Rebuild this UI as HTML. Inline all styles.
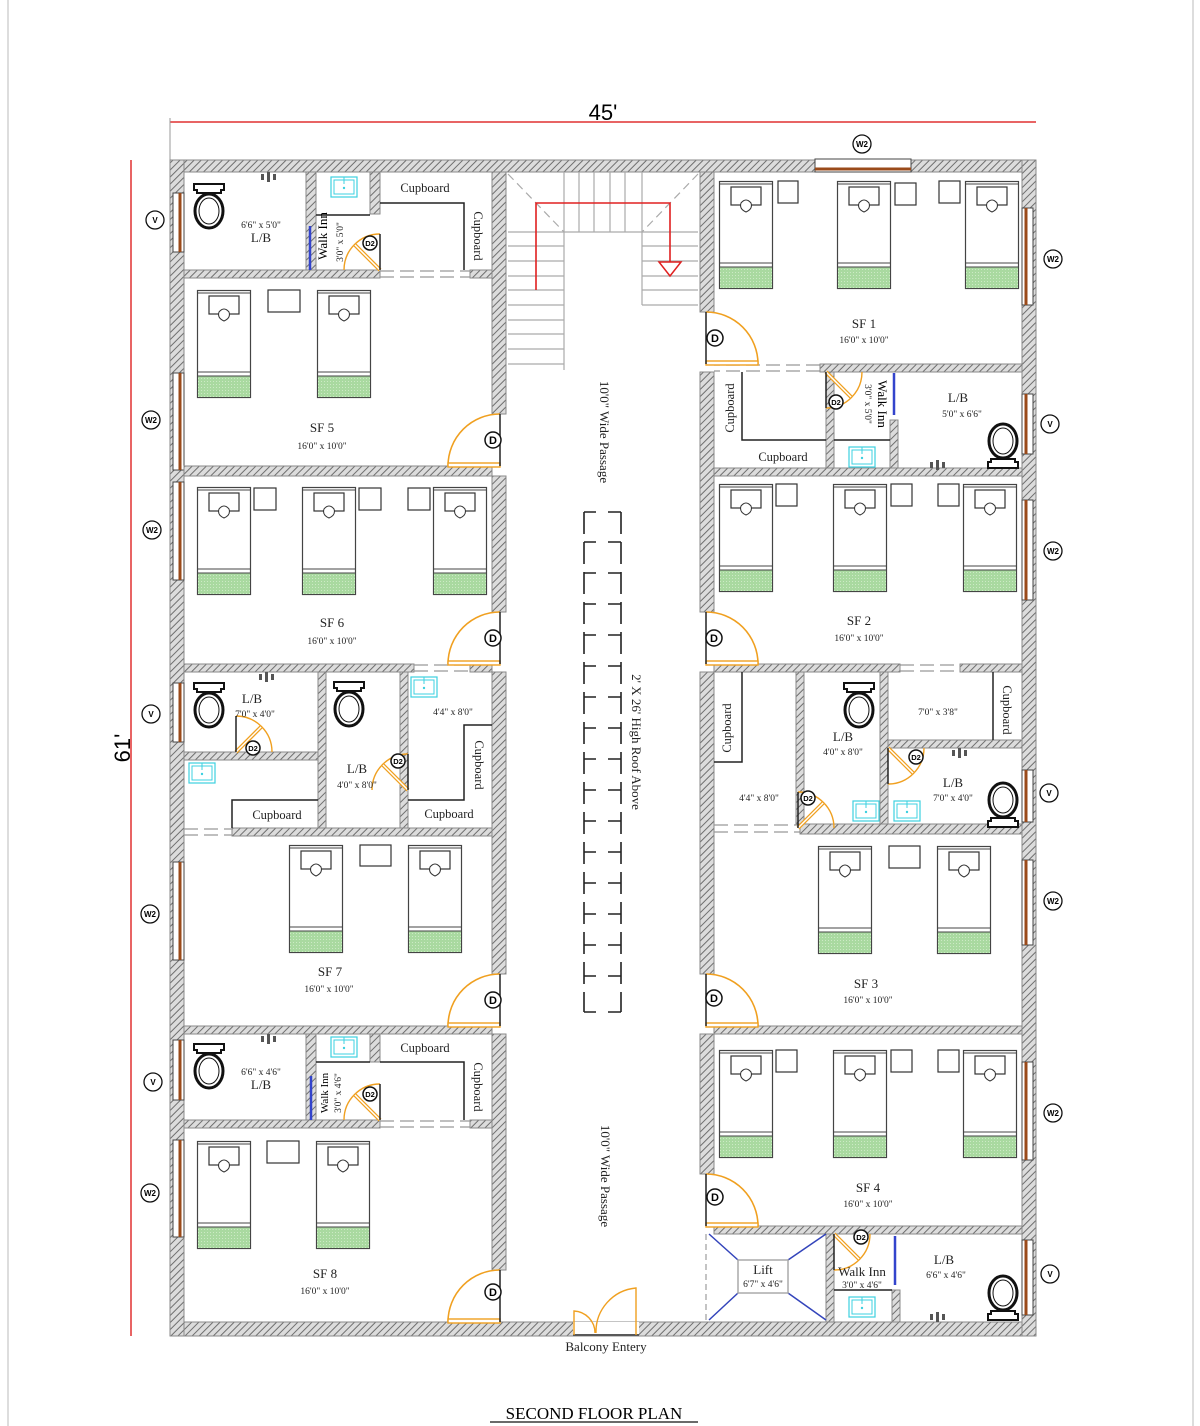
<!DOCTYPE html>
<html><head><meta charset="utf-8">
<style>
html,body{margin:0;padding:0;background:#fff;}
svg{display:block;font-family:"Liberation Serif",serif;}
.w{fill:url(#h);stroke:#8a8a8a;stroke-width:1;}
.t{font-size:13px;fill:#222;}
.s{font-size:9.5px;fill:#222;}
.c{font-size:12.5px;fill:#222;}
</style></head><body>
<svg width="1200" height="1426" viewBox="0 0 1200 1426" xmlns="http://www.w3.org/2000/svg">
<defs>
<pattern id="h" width="5" height="5" patternUnits="userSpaceOnUse" patternTransform="rotate(45)">
<rect width="5" height="5" fill="#dcdcdc"/><line x1="0" y1="0" x2="0" y2="5" stroke="#6f6f6f" stroke-width="2"/>
</pattern>
<pattern id="g" width="3" height="3" patternUnits="userSpaceOnUse"><rect width="3" height="3" fill="#a9d9a0"/><circle cx="1.5" cy="1.5" r="0.5" fill="#d8f0d2"/></pattern>
<symbol id="bed" viewBox="0 0 54 108" width="54" height="108" overflow="visible">
<rect x="0.5" y="0.5" width="53" height="107" fill="#fff" stroke="#444" stroke-width="1.2"/>
<line x1="0.5" y1="3" x2="53.5" y2="3" stroke="#444"/>
<rect x="12" y="6" width="30" height="18" fill="#fff" stroke="#333" stroke-width="1.2"/>
<path d="M22 22 q5 -6 10 0 q2 6 -5 9 q-7 -3 -5 -9z" fill="#fff" stroke="#333"/>
<line x1="0.5" y1="82" x2="53.5" y2="82" stroke="#444"/>
<rect x="0.5" y="86" width="53" height="21.5" fill="url(#g)" stroke="#444"/>
</symbol>
<symbol id="toi" viewBox="0 0 36 48" width="36" height="48" overflow="visible">
<path d="M3 2 h30 v6 h-3 v3 h-24 v-3 h-3z" fill="#fff" stroke="#111" stroke-width="2"/>
<ellipse cx="18" cy="29" rx="14" ry="17" fill="#fff" stroke="#111" stroke-width="3"/>
<ellipse cx="18" cy="29" rx="10" ry="13" fill="#fff" stroke="#111" stroke-width="1"/>
</symbol>
<symbol id="sink" viewBox="0 0 28 22" width="28" height="22" overflow="visible">
<rect x="1" y="1" width="26" height="20" fill="#fff" stroke="#3cd0e0" stroke-width="1.2"/>
<rect x="4" y="4" width="20" height="14" fill="none" stroke="#3cd0e0"/>
<line x1="14" y1="1" x2="14" y2="8" stroke="#3cd0e0"/><circle cx="14" cy="12" r="1.2" fill="#3cd0e0"/>
</symbol>
<symbol id="door" viewBox="-54 -54 54 54" width="54" height="54" overflow="visible">
<path d="M-52 0 A52 52 0 0 1 0 -52" fill="none" stroke="#f0a020" stroke-width="1.6"/>
<rect x="-52" y="-3" width="52" height="4" fill="#fff" stroke="#f0a020" stroke-width="1.4"/>
<line x1="0" y1="0" x2="0" y2="-52" stroke="#222" stroke-width="1.5"/>
</symbol>
<symbol id="d2" viewBox="-40 -40 40 40" width="40" height="40" overflow="visible">
<path d="M-36 0 A36 36 0 0 1 0 -36" fill="none" stroke="#f0a020" stroke-width="1.4"/>
<line x1="0" y1="0" x2="-25" y2="-25" stroke="#f0a020" stroke-width="4"/>
<line x1="0" y1="0" x2="-25" y2="-25" stroke="#fff" stroke-width="1.5"/>
<line x1="0" y1="0" x2="0" y2="-36" stroke="#222" stroke-width="1.5"/>
</symbol>
<symbol id="fau" viewBox="0 0 20 10" width="20" height="10" overflow="visible">
<rect x="2" y="2" width="3" height="6" fill="#555"/><rect x="8" y="0" width="3" height="10" fill="#555"/><rect x="14" y="2" width="3" height="6" fill="#555"/>
</symbol>
</defs>

<line x1="8" y1="0" x2="8" y2="1426" stroke="#bbb"/>
<line x1="1193" y1="0" x2="1193" y2="1426" stroke="#bbb"/>

<line x1="170" y1="122" x2="1036" y2="122" stroke="#e03030" stroke-width="1.5"/>
<line x1="170" y1="118" x2="170" y2="160" stroke="#999"/>
<text x="603" y="120" font-family="Liberation Sans,sans-serif" font-size="22" text-anchor="middle">45'</text>
<line x1="131" y1="160" x2="131" y2="1336" stroke="#e03030" stroke-width="1.5"/>
<text transform="translate(130,748) rotate(-90)" font-family="Liberation Sans,sans-serif" font-size="22" text-anchor="middle">61'</text>

<rect class="w" x="170" y="160" width="866" height="12"/>
<rect class="w" x="170" y="1322" width="866" height="14"/>
<rect class="w" x="170" y="160" width="14" height="1176"/>
<rect class="w" x="1022" y="160" width="14" height="1176"/>

<g fill="#fff" stroke="#444">
<rect x="173" y="193" width="11" height="59"/><rect x="173" y="373" width="11" height="97"/><rect x="173" y="482" width="11" height="98"/>
<rect x="173" y="683" width="11" height="59"/><rect x="173" y="862" width="11" height="98"/><rect x="173" y="1040" width="11" height="60"/><rect x="173" y="1140" width="11" height="97"/>
<rect x="1022" y="208" width="11" height="97"/><rect x="1022" y="394" width="11" height="60"/><rect x="1022" y="500" width="11" height="100"/>
<rect x="1022" y="770" width="11" height="52"/><rect x="1022" y="860" width="11" height="85"/><rect x="1022" y="1062" width="11" height="98"/><rect x="1022" y="1240" width="11" height="75"/>
<rect x="815" y="159" width="96" height="13"/>
</g>
<g stroke="#9a4a1a" stroke-width="3">
<line x1="180" y1="193" x2="180" y2="252"/><line x1="180" y1="373" x2="180" y2="470"/><line x1="180" y1="482" x2="180" y2="580"/>
<line x1="180" y1="683" x2="180" y2="742"/><line x1="180" y1="862" x2="180" y2="960"/><line x1="180" y1="1040" x2="180" y2="1100"/><line x1="180" y1="1140" x2="180" y2="1237"/>
<line x1="1026" y1="208" x2="1026" y2="305"/><line x1="1026" y1="394" x2="1026" y2="454"/><line x1="1026" y1="500" x2="1026" y2="600"/>
<line x1="1026" y1="770" x2="1026" y2="822"/><line x1="1026" y1="860" x2="1026" y2="945"/><line x1="1026" y1="1062" x2="1026" y2="1160"/><line x1="1026" y1="1240" x2="1026" y2="1315"/>
<line x1="815" y1="169" x2="911" y2="169"/>
</g>
<g font-family="Liberation Sans,sans-serif" font-size="8" font-weight="bold" text-anchor="middle">
<g fill="#fff" stroke="#111" stroke-width="1.3">
<circle cx="155" cy="220" r="9"/><circle cx="151" cy="420" r="9"/><circle cx="152" cy="530" r="9"/><circle cx="151" cy="714" r="9"/><circle cx="150" cy="914" r="9"/><circle cx="153" cy="1082" r="9"/><circle cx="150" cy="1193" r="9"/>
<circle cx="1053" cy="259" r="9"/><circle cx="1050" cy="424" r="9"/><circle cx="1053" cy="551" r="9"/><circle cx="1049" cy="793" r="9"/><circle cx="1053" cy="901" r="9"/><circle cx="1053" cy="1113" r="9"/><circle cx="1050" cy="1274" r="9"/><circle cx="862" cy="144" r="9"/>
</g>
<text x="155" y="223">V</text><text x="151" y="423">W2</text><text x="152" y="533">W2</text><text x="151" y="717">V</text><text x="150" y="917">W2</text><text x="153" y="1085">V</text><text x="150" y="1196">W2</text>
<text x="1053" y="262">W2</text><text x="1050" y="427">V</text><text x="1053" y="554">W2</text><text x="1049" y="796">V</text><text x="1053" y="904">W2</text><text x="1053" y="1116">W2</text><text x="1050" y="1277">V</text><text x="862" y="147">W2</text>
</g>

<rect class="w" x="492" y="172" width="14" height="242"/>
<rect class="w" x="492" y="476" width="14" height="136"/>
<rect class="w" x="492" y="672" width="14" height="302"/>
<rect class="w" x="492" y="1034" width="14" height="236"/>
<rect class="w" x="700" y="172" width="14" height="140"/>
<rect class="w" x="700" y="372" width="14" height="240"/>
<rect class="w" x="700" y="672" width="14" height="302"/>
<rect class="w" x="700" y="1034" width="14" height="140"/>
<line x1="706" y1="1234" x2="706" y2="1322" stroke="#888" stroke-dasharray="6,4"/>

<rect class="w" x="184" y="270" width="196" height="8"/><rect class="w" x="470" y="270" width="22" height="8"/>
<rect class="w" x="184" y="466" width="308" height="10"/>
<rect class="w" x="184" y="664" width="230" height="8"/><rect class="w" x="470" y="664" width="22" height="8"/>
<rect class="w" x="232" y="828" width="260" height="8"/>
<rect class="w" x="184" y="1026" width="308" height="8"/>
<rect class="w" x="184" y="1120" width="196" height="8"/><rect class="w" x="470" y="1120" width="22" height="8"/>
<g stroke="#999" stroke-width="1.2" stroke-dasharray="14,6" fill="none">
<path d="M380 271 h90 M380 277 h90 M414 665 h56 M414 671 h56 M184 829 h48 M184 835 h48 M380 1121 h90 M380 1127 h90"/>
<path d="M820 365 h-106 M820 371 h-106 M900 665 h60 M900 671 h60 M714 825 h86 M714 832 h86"/>
</g>
<rect class="w" x="306" y="172" width="10" height="98"/><rect class="w" x="370" y="172" width="10" height="42"/>
<rect class="w" x="318" y="672" width="8" height="156"/><rect class="w" x="400" y="672" width="8" height="156"/>
<rect class="w" x="184" y="752" width="134" height="8"/>
<rect class="w" x="306" y="1034" width="10" height="86"/><rect class="w" x="370" y="1034" width="10" height="28"/>
<rect class="w" x="820" y="364" width="202" height="8"/>
<rect class="w" x="714" y="468" width="308" height="8"/>
<rect class="w" x="714" y="664" width="186" height="8"/><rect class="w" x="960" y="664" width="62" height="8"/>
<rect class="w" x="800" y="824" width="222" height="10"/>
<rect class="w" x="714" y="1026" width="308" height="8"/>
<rect class="w" x="714" y="1226" width="308" height="8"/>
<rect class="w" x="826" y="372" width="8" height="96"/><rect class="w" x="890" y="420" width="8" height="48"/>
<rect class="w" x="796" y="672" width="8" height="152"/><rect class="w" x="880" y="672" width="8" height="152"/>
<rect class="w" x="888" y="740" width="134" height="8"/>
<rect class="w" x="826" y="1234" width="8" height="88"/><rect class="w" x="892" y="1290" width="8" height="32"/>

<g fill="none" stroke="#222" stroke-width="1.5">
<path d="M380 203 h84 v67"/><path d="M380 1062 h84 v58"/>
<path d="M232 828 v-28 h86"/><path d="M408 800 h56 v-75 h28"/>
<path d="M742 372 v68 h84"/><path d="M742 672 v90 h-28"/><path d="M993 672 v68"/>
<path d="M316 215 h54"/><path d="M316 1062 h54"/><path d="M834 440 h56"/><path d="M834 1290 h58"/>
</g>
<g stroke="#3344cc" stroke-width="2.5"><line x1="310" y1="226" x2="310" y2="270"/><line x1="311" y1="1076" x2="311" y2="1120"/><line x1="894" y1="373" x2="894" y2="415"/><line x1="895" y1="1236" x2="895" y2="1285"/></g>

<g stroke="#aaa" stroke-width="1.2" fill="none">
<path d="M508 232 h56 M508 246 h56 M508 261 h56 M508 276 h56 M508 290 h56 M508 305 h56 M508 320 h56 M508 334 h56 M508 349 h56 M508 364 h56"/>
<line x1="564" y1="232" x2="564" y2="370"/>
<path d="M564 172 v60 M579 172 v60 M594 172 v60 M610 172 v60 M625 172 v60 M642 172 v60 M564 232 h78"/>
<path d="M642 232 h56 M642 246 h56 M642 261 h56 M642 276 h56 M642 290 h56 M642 305 h56 M642 232 v73"/>
<path d="M508 174 L564 232 M698 174 L642 232" stroke-dasharray="8,5"/>
</g>
<path d="M536 290 V203 H670 V262" fill="none" stroke="#e02020" stroke-width="1.6"/>
<path d="M659 262 h22 l-11 14z" fill="#fff" stroke="#e02020" stroke-width="1.5"/>

<text class="t" transform="translate(600,432) rotate(90)" text-anchor="middle">10'0" Wide Passage</text>
<text class="t" transform="translate(632,742) rotate(90)" text-anchor="middle">2' X 26'  High Roof Above</text>
<text class="t" transform="translate(601,1176) rotate(90)" text-anchor="middle">10'0" Wide Passage</text>
<g stroke="#222" stroke-width="1.6" fill="none">
<path d="M584 512 V1012 M621 512 V1012" stroke-dasharray="22,8"/>
<path d="M584 512 h12 M608 512 h13 M584 1012 h12 M608 1012 h13"/>
<path d="M584 542 h12 M608 542 h13 M584 573 h12 M608 573 h13 M584 604 h12 M608 604 h13 M584 635 h12 M608 635 h13 M584 666 h12 M608 666 h13 M584 697 h12 M608 697 h13 M584 728 h12 M608 728 h13 M584 759 h12 M608 759 h13 M584 790 h12 M608 790 h13 M584 821 h12 M608 821 h13 M584 852 h12 M608 852 h13 M584 883 h12 M608 883 h13 M584 914 h12 M608 914 h13 M584 945 h12 M608 945 h13 M584 976 h12 M608 976 h13"/>
</g>

<use href="#bed" x="197" y="290"/><use href="#bed" x="317" y="290"/>
<use href="#bed" x="197" y="487"/><use href="#bed" x="302" y="487"/><use href="#bed" x="433" y="487"/>
<use href="#bed" x="289" y="845"/><use href="#bed" x="408" y="845"/>
<use href="#bed" x="197" y="1141"/><use href="#bed" x="316" y="1141"/>
<use href="#bed" x="719" y="181"/><use href="#bed" x="837" y="181"/><use href="#bed" x="965" y="181"/>
<use href="#bed" x="719" y="484"/><use href="#bed" x="833" y="484"/><use href="#bed" x="963" y="484"/>
<use href="#bed" x="818" y="846"/><use href="#bed" x="937" y="846"/>
<use href="#bed" x="719" y="1050"/><use href="#bed" x="833" y="1050"/><use href="#bed" x="963" y="1050"/>
<g fill="#fff" stroke="#333" stroke-width="1.2">
<rect x="268" y="290" width="32" height="22"/><rect x="254" y="488" width="22" height="22"/><rect x="359" y="488" width="22" height="22"/><rect x="408" y="488" width="22" height="22"/>
<rect x="360" y="845" width="31" height="21"/><rect x="267" y="1141" width="32" height="22"/>
<rect x="778" y="181" width="20" height="22"/><rect x="895" y="183" width="21" height="22"/><rect x="939" y="181" width="21" height="22"/>
<rect x="776" y="484" width="21" height="22"/><rect x="891" y="484" width="21" height="22"/><rect x="938" y="484" width="21" height="22"/>
<rect x="889" y="846" width="31" height="22"/>
<rect x="776" y="1050" width="21" height="22"/><rect x="891" y="1050" width="21" height="22"/><rect x="938" y="1050" width="21" height="22"/>
</g>

<use href="#toi" x="191" y="182"/><use href="#toi" x="191" y="681"/><use href="#toi" x="331" y="680"/><use href="#toi" x="191" y="1042"/>
<use href="#toi" x="841" y="681"/>
<g transform="translate(1021,470) scale(-1,-1)"><use href="#toi" x="0" y="0"/></g>
<g transform="translate(1021,829) scale(-1,-1)"><use href="#toi" x="0" y="0"/></g>
<g transform="translate(1021,1322) scale(-1,-1)"><use href="#toi" x="0" y="0"/></g>
<use href="#sink" x="330" y="176"/><use href="#sink" x="410" y="676"/><use href="#sink" x="188" y="762"/><use href="#sink" x="330" y="1036"/>
<use href="#sink" x="848" y="446"/><use href="#sink" x="852" y="800"/><use href="#sink" x="893" y="800"/><use href="#sink" x="848" y="1296"/>
<use href="#fau" x="259" y="172"/><use href="#fau" x="257" y="672"/><use href="#fau" x="259" y="1034"/>
<use href="#fau" x="928" y="460"/><use href="#fau" x="950" y="748"/><use href="#fau" x="928" y="1312"/>

<use href="#door" x="446" y="412"/><use href="#door" x="446" y="610"/><use href="#door" x="446" y="972"/><use href="#door" x="446" y="1268"/>
<g transform="translate(706,364) scale(-1,1)"><use href="#door" x="-54" y="-54"/></g>
<g transform="translate(706,664) scale(-1,1)"><use href="#door" x="-54" y="-54"/></g>
<g transform="translate(706,1026) scale(-1,1)"><use href="#door" x="-54" y="-54"/></g>
<g transform="translate(706,1226) scale(-1,1)"><use href="#door" x="-54" y="-54"/></g>
<use href="#d2" x="340" y="230"/>
<g transform="translate(236,752) scale(-1,1)"><use href="#d2" x="-40" y="-40"/></g>
<use href="#d2" x="368" y="750"/>
<use href="#d2" x="340" y="1080"/>
<g transform="translate(826,372) scale(-1,-1)"><use href="#d2" x="-40" y="-40"/></g>
<g transform="translate(888,748) scale(-1,-1)"><use href="#d2" x="-40" y="-40"/></g>
<g transform="translate(798,828) scale(-1,1)"><use href="#d2" x="-40" y="-40"/></g>
<g transform="translate(834,1234) scale(-1,-1)"><use href="#d2" x="-40" y="-40"/></g>

<g font-family="Liberation Sans,sans-serif" font-weight="bold" text-anchor="middle">
<g fill="#fff" stroke="#111" stroke-width="1.5">
<circle cx="493" cy="440" r="8"/><circle cx="493" cy="638" r="8"/><circle cx="493" cy="1000" r="8"/><circle cx="493" cy="1292" r="8"/>
<circle cx="715" cy="338" r="8"/><circle cx="714" cy="638" r="8"/><circle cx="714" cy="998" r="8"/><circle cx="715" cy="1197" r="8"/>
</g>
<g font-size="11"><text x="493" y="444">D</text><text x="493" y="642">D</text><text x="493" y="1004">D</text><text x="493" y="1296">D</text>
<text x="715" y="342">D</text><text x="714" y="642">D</text><text x="714" y="1002">D</text><text x="715" y="1201">D</text></g>
<g fill="#fff" stroke="#111" stroke-width="1.5">
<circle cx="370" cy="243" r="7"/><circle cx="253" cy="748" r="7"/><circle cx="398" cy="761" r="7"/><circle cx="370" cy="1094" r="7"/>
<circle cx="836" cy="402" r="7"/><circle cx="916" cy="757" r="7"/><circle cx="808" cy="798" r="7"/><circle cx="861" cy="1237" r="7"/>
</g>
<g font-size="7.5"><text x="370" y="246">D2</text><text x="253" y="751">D2</text><text x="398" y="764">D2</text><text x="370" y="1097">D2</text>
<text x="836" y="405">D2</text><text x="916" y="760">D2</text><text x="808" y="801">D2</text><text x="861" y="1240">D2</text></g>
</g>

<g stroke="#3344bb" stroke-width="1.5"><line x1="709" y1="1234" x2="738" y2="1260"/><line x1="826" y1="1234" x2="788" y2="1260"/><line x1="709" y1="1320" x2="738" y2="1293"/><line x1="826" y1="1320" x2="788" y2="1293"/></g>
<rect x="738" y="1260" width="50" height="33" fill="#fff" stroke="#aaa" stroke-width="1.5"/>
<text class="t" x="763" y="1274" text-anchor="middle">Lift</text>
<text class="s" x="763" y="1287" text-anchor="middle">6'7" x 4'6"</text>

<rect x="573" y="1322" width="66" height="14" fill="#fff"/>
<line x1="573" y1="1335" x2="639" y2="1335" stroke="#222" stroke-width="1.5"/>
<path d="M574 1335 V1311 A22 22 0 0 1 595 1333" fill="none" stroke="#f0a020" stroke-width="1.4"/>
<path d="M636 1335 V1288 A44 44 0 0 0 596 1333" fill="none" stroke="#f0a020" stroke-width="1.4"/>
<text class="t" x="606" y="1351" text-anchor="middle">Balcony Entery</text>

<g class="t" text-anchor="middle">
<text x="322" y="432">SF 5</text><text x="332" y="627">SF 6</text><text x="330" y="976">SF 7</text><text x="325" y="1278">SF 8</text>
<text x="864" y="328">SF 1</text><text x="859" y="625">SF 2</text><text x="866" y="988">SF 3</text><text x="868" y="1192">SF 4</text>
<text x="261" y="242">L/B</text><text x="252" y="703">L/B</text><text x="357" y="773">L/B</text><text x="261" y="1089">L/B</text>
<text x="958" y="402">L/B</text><text x="843" y="741">L/B</text><text x="953" y="787">L/B</text><text x="944" y="1264">L/B</text>
<text x="862" y="1276">Walk Inn</text>
</g>
<g class="s" text-anchor="middle">
<text x="322" y="449">16'0" x 10'0"</text><text x="332" y="644">16'0" x 10'0"</text><text x="329" y="992">16'0" x 10'0"</text><text x="325" y="1294">16'0" x 10'0"</text>
<text x="864" y="343">16'0" x 10'0"</text><text x="859" y="641">16'0" x 10'0"</text><text x="868" y="1003">16'0" x 10'0"</text><text x="868" y="1207">16'0" x 10'0"</text>
<text x="261" y="228">6'6" x 5'0"</text><text x="255" y="717">7'0" x 4'0"</text><text x="357" y="788">4'0" x 8'0"</text><text x="453" y="715">4'4" x 8'0"</text><text x="261" y="1075">6'6" x 4'6"</text>
<text x="962" y="417">5'0" x 6'6"</text><text x="843" y="755">4'0" x 8'0"</text><text x="938" y="715">7'0" x 3'8"</text><text x="953" y="801">7'0" x 4'0"</text><text x="759" y="801">4'4" x 8'0"</text>
<text x="946" y="1278">6'6" x 4'6"</text><text x="862" y="1288">3'0" x 4'6"</text>
</g>
<g class="c" text-anchor="middle">
<text x="425" y="192">Cupboard</text><text x="277" y="819">Cupboard</text><text x="449" y="818">Cupboard</text><text x="425" y="1052">Cupboard</text>
<text x="783" y="461">Cupboard</text>
<text transform="translate(474,236) rotate(90)">Cupboard</text>
<text transform="translate(475,765) rotate(90)">Cupboard</text>
<text transform="translate(474,1087) rotate(90)">Cupboard</text>
<text transform="translate(734,408) rotate(-90)">Cupboard</text>
<text transform="translate(731,728) rotate(-90)">Cupboard</text>
<text transform="translate(1003,710) rotate(90)">Cupboard</text>
</g>
<g font-size="13" text-anchor="middle">
<text transform="translate(327,236) rotate(-90)">Walk Inn</text>
<text transform="translate(328,1093) rotate(-90)" font-size="11">Walk Inn</text>
<text transform="translate(878,404) rotate(90)">Walk Inn</text>
</g>
<g class="s" text-anchor="middle">
<text transform="translate(343,242) rotate(-90)">3'0" x 5'0"</text>
<text transform="translate(341,1093) rotate(-90)">3'0" x 4'6"</text>
<text transform="translate(865,404) rotate(90)">3'0" x 5'0"</text>
</g>

<text x="594" y="1419" font-size="17" text-anchor="middle">SECOND FLOOR PLAN</text>
<line x1="490" y1="1422" x2="698" y2="1422" stroke="#111" stroke-width="1.2"/>
</svg>
</body></html>
